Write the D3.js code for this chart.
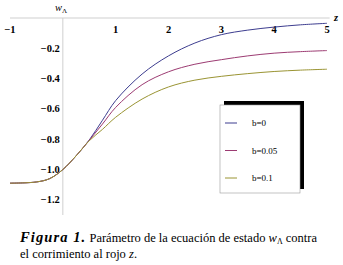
<!DOCTYPE html>
<html>
<head>
<meta charset="utf-8">
<script src="https://cdn.jsdelivr.net/npm/d3@7"></script>
<style>
  body { margin: 0; background: #fff; font-family: "Liberation Serif", serif; }
</style>
</head>
<body>
<svg id="chart" width="343" height="265"></svg>
<script>
const zValues = [-1, -0.5, -0.25, 0, 0.25, 0.5, 0.75, 1, 1.5, 2, 2.5, 3, 3.5, 4, 4.5, 5];
const wB0 =   [-1.09, -1.082, -1.06, -1.0, -0.91, -0.805, -0.675, -0.545, -0.37, -0.25, -0.165, -0.11, -0.08, -0.06, -0.045, -0.035];
const wB005 = [-1.09, -1.082, -1.06, -1.0, -0.91, -0.807, -0.70, -0.59, -0.44, -0.355, -0.305, -0.275, -0.25, -0.232, -0.222, -0.215];
const wB01 =  [-1.09, -1.082, -1.06, -1.0, -0.91, -0.81, -0.735, -0.655, -0.535, -0.455, -0.41, -0.385, -0.367, -0.353, -0.344, -0.338];
const seriesNames = ["b=0", "b=0.05", "b=0.1"];
const seriesColors = ["#3d3d8f", "#9c3b72", "#9a9433"];
const xTicks = [-1, 1, 2, 3, 4, 5];
const yTicks = [-0.2, -0.4, -0.6, -0.8, -1.0, -1.2];

const serif = "Liberation Serif";
const svg = d3.select("#chart");

const x = d3.scaleLinear().domain([-1, 5]).range([10, 327]);
const y = d3.scaleLinear().domain([0, -1.3]).range([18, 215]);

// axes through the origin, Mathematica style
svg.append("line")
  .attr("x1", x(-1)).attr("x2", x(5.05))
  .attr("y1", y(0)).attr("y2", y(0))
  .attr("stroke", "#cfcfcf").attr("stroke-width", 1);
svg.append("line")
  .attr("x1", x(0)).attr("x2", x(0))
  .attr("y1", y(0)).attr("y2", y(-1.3))
  .attr("stroke", "#cfcfcf").attr("stroke-width", 1);

const fmt = (v) => (v < 0 ? "\u2212" : "") + Math.abs(v);

svg.append("g").selectAll("text")
  .data(xTicks)
  .join("text")
  .style("font-family", serif)
  .attr("x", (d) => x(d))
  .attr("y", y(0) + 15)
  .attr("text-anchor", "middle")
  .attr("font-size", 10.5)
  .attr("font-weight", "bold")
  .text((d) => fmt(d));

svg.append("g").selectAll("text")
  .data(yTicks)
  .join("text")
  .style("font-family", serif)
  .attr("x", x(0) - 3)
  .attr("y", (d) => y(d) + 3.5)
  .attr("text-anchor", "end")
  .attr("font-size", 10.5)
  .attr("font-weight", "bold")
  .text((d) => fmt(d) + (Number.isInteger(d) ? ".0" : ""));

// axis labels
const wl = svg.append("text").style("font-family", serif).attr("x", 55).attr("y", 11).attr("font-size", 10.5);
wl.append("tspan").attr("font-style", "italic").text("w");
wl.append("tspan").attr("font-size", 7).attr("dy", 2).text("\u039B");

svg.append("text")
  .style("font-family", serif)
  .attr("x", 334).attr("y", 21)
  .attr("font-size", 10.5).attr("font-weight", "bold").attr("font-style", "italic")
  .text("z");

// curves
const series = [wB0, wB005, wB01];
const line = d3.line()
  .x((d) => x(d[0]))
  .y((d) => y(d[1]))
  .curve(d3.curveCatmullRom);

svg.append("g").selectAll("path")
  .data(series)
  .join("path")
  .attr("fill", "none")
  .attr("stroke", (d, i) => seriesColors[i])
  .attr("stroke-width", 1)
  .attr("d", (d) => line(zValues.map((z, i) => [z, d[i]])));

// legend with shadow
const lg = svg.append("g").attr("transform", "translate(220,105)");
lg.append("rect").attr("x", 4).attr("y", -4).attr("width", 80).attr("height", 88).attr("fill", "#000");
lg.append("rect").attr("x", 0).attr("y", 0).attr("width", 80).attr("height", 88)
  .attr("fill", "#fff").attr("stroke", "#999").attr("stroke-width", 0.6);

const items = lg.selectAll("g.item")
  .data(seriesNames)
  .join("g")
  .attr("class", "item")
  .attr("transform", (d, i) => `translate(0,${18 + i * 27.5})`);
items.append("line")
  .attr("x1", 5).attr("x2", 17)
  .attr("stroke", (d, i) => seriesColors[i]).attr("stroke-width", 1);
items.append("text")
  .style("font-family", serif)
  .attr("x", 32).attr("y", 3)
  .attr("font-size", 9)
  .text((d) => d);

// caption
const cap = svg.append("text").style("font-family", serif).attr("x", 20).attr("y", 242).attr("font-size", 12.5);
cap.append("tspan").attr("font-weight", "bold").attr("font-style", "italic")
  .attr("font-size", 14.5).attr("letter-spacing", 1.1).text("Figura 1.");
cap.append("tspan").attr("letter-spacing", 0).text(" Parámetro de la ecuación de estado ");
cap.append("tspan").attr("font-style", "italic").text("w");
cap.append("tspan").attr("font-size", 8).attr("dy", 2).text("\u039B");
cap.append("tspan").attr("dy", -2).text(" contra");
const cap2 = svg.append("text").style("font-family", serif).attr("x", 20).attr("y", 258).attr("font-size", 12.5);
cap2.append("tspan").text("el corrimiento al rojo ");
cap2.append("tspan").attr("font-style", "italic").text("z");
cap2.append("tspan").text(".");
</script>
</body>
</html>
